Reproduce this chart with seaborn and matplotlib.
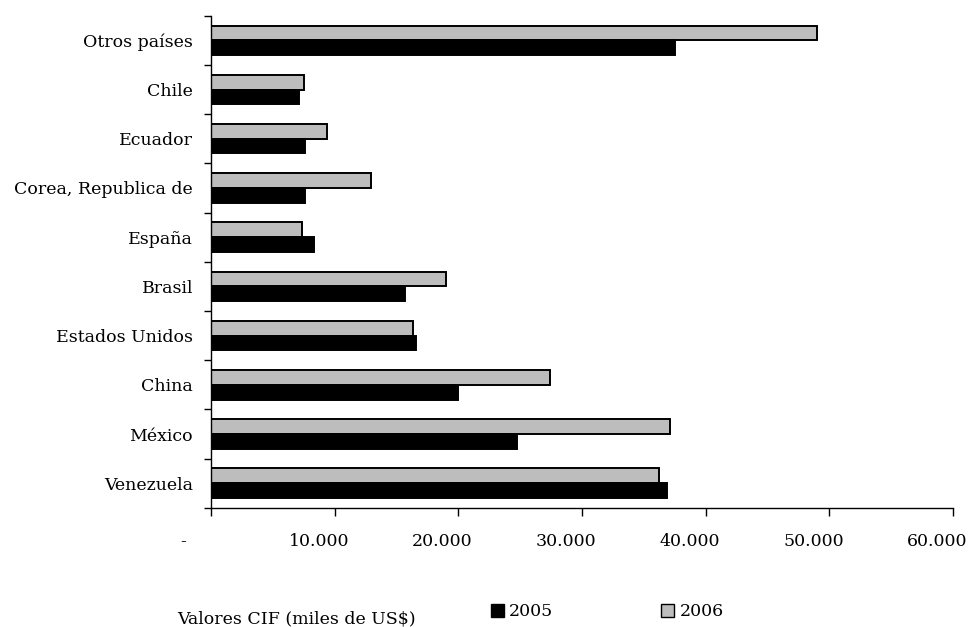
import matplotlib
matplotlib.use("Agg")
import matplotlib.pyplot as plt
import matplotlib.patches as mpatches
import matplotlib.transforms as mtransforms
from matplotlib.ticker import FixedLocator, FuncFormatter
import seaborn as sns
import pandas as pd

categories = ["Otros países", "Chile", "Ecuador", "Corea, Republica de", "España",
              "Brasil", "Estados Unidos", "China", "México", "Venezuela"]
values_2005 = [37490, 7130, 7610, 7610, 8290, 15710, 16600, 19920, 24700, 36840]
values_2006 = [48960, 7470, 9370, 12900, 7340, 18950, 16360, 27370, 37090, 36190]
years = ["2005", "2006"]
xticks = [0, 10000, 20000, 30000, 40000, 50000, 60000]
xlabel_text = "Valores CIF (miles de US$)"

rows = []
for c, a, b in zip(categories, values_2005, values_2006):
    rows.append({"pais": c, "anio": "2005", "valor": a})
    rows.append({"pais": c, "anio": "2006", "valor": b})
df = pd.DataFrame(rows)

sns.set_theme(style="white", rc={"text.color": "black", "xtick.color": "black",
                                 "ytick.color": "black", "axes.labelcolor": "black",
                                 "axes.edgecolor": "black"})
plt.rcParams["font.family"] = ["DejaVu Serif"]

c2005 = "#000000"
c2006 = "#bdbdbd"
fs = 12.5

fig = plt.figure(figsize=(9.69, 6.27), dpi=100)
ax = fig.add_axes([0.218, 0.19, 0.7655, 0.785])

sns.barplot(data=df, y="pais", x="valor", hue="anio", order=categories,
            hue_order=["2006", "2005"], palette={"2005": c2005, "2006": c2006},
            orient="h", width=0.6, gap=0, edgecolor="black", linewidth=1.4,
            legend=False, ax=ax)

ax.set_xlim(0, 60000)
ax.set_ylim(9.5, -0.5)
ax.set_xlabel("")
ax.set_ylabel("")

for s in ["top", "right"]:
    ax.spines[s].set_visible(False)
for s in ["left", "bottom"]:
    ax.spines[s].set_color("black")
    ax.spines[s].set_linewidth(1.0)

ax.xaxis.set_major_locator(FixedLocator(xticks))
ax.xaxis.set_major_formatter(FuncFormatter(
    lambda v, p: "-" if v == 0 else f"{int(v):,}".replace(",", ".")))
ax.tick_params(axis="x", direction="out", length=6, width=1, color="black",
               pad=12, labelsize=fs, bottom=True)

ax.set_yticks([i + 0.5 for i in range(-1, len(categories))])
ax.set_yticklabels([])
ax.set_yticks(range(len(categories)), minor=True)
ax.set_yticklabels(categories, minor=True)
ax.tick_params(axis="y", which="major", direction="out", length=5, width=1,
               color="black", left=True)
ax.tick_params(axis="y", which="minor", length=0, pad=13, labelsize=fs)

# Excel-style accounting labels sit left of their ticks
for i, t in enumerate(ax.xaxis.get_major_ticks()):
    dx = -28 if i == 0 else -16
    off = mtransforms.ScaledTranslation(dx / 100.0, 0, fig.dpi_scale_trans)
    t.label1.set_transform(t.label1.get_transform() + off)

handles = [mpatches.Patch(facecolor=c2005, edgecolor="black", linewidth=1.0, label=years[0]),
           mpatches.Patch(facecolor=c2006, edgecolor="black", linewidth=1.0, label=years[1])]
fig.legend(handles=handles, loc="center left", bbox_to_anchor=(491 / 969, 1 - 612 / 627),
           ncol=2, frameon=False, fontsize=fs, handlelength=0.75,
           handleheight=0.75, handletextpad=0.3, columnspacing=6.2,
           borderaxespad=0, borderpad=0)
fig.text(296 / 969, 1 - 619 / 627, xlabel_text, ha="center", va="center", fontsize=fs)

fig.savefig("out.png", dpi=100)
